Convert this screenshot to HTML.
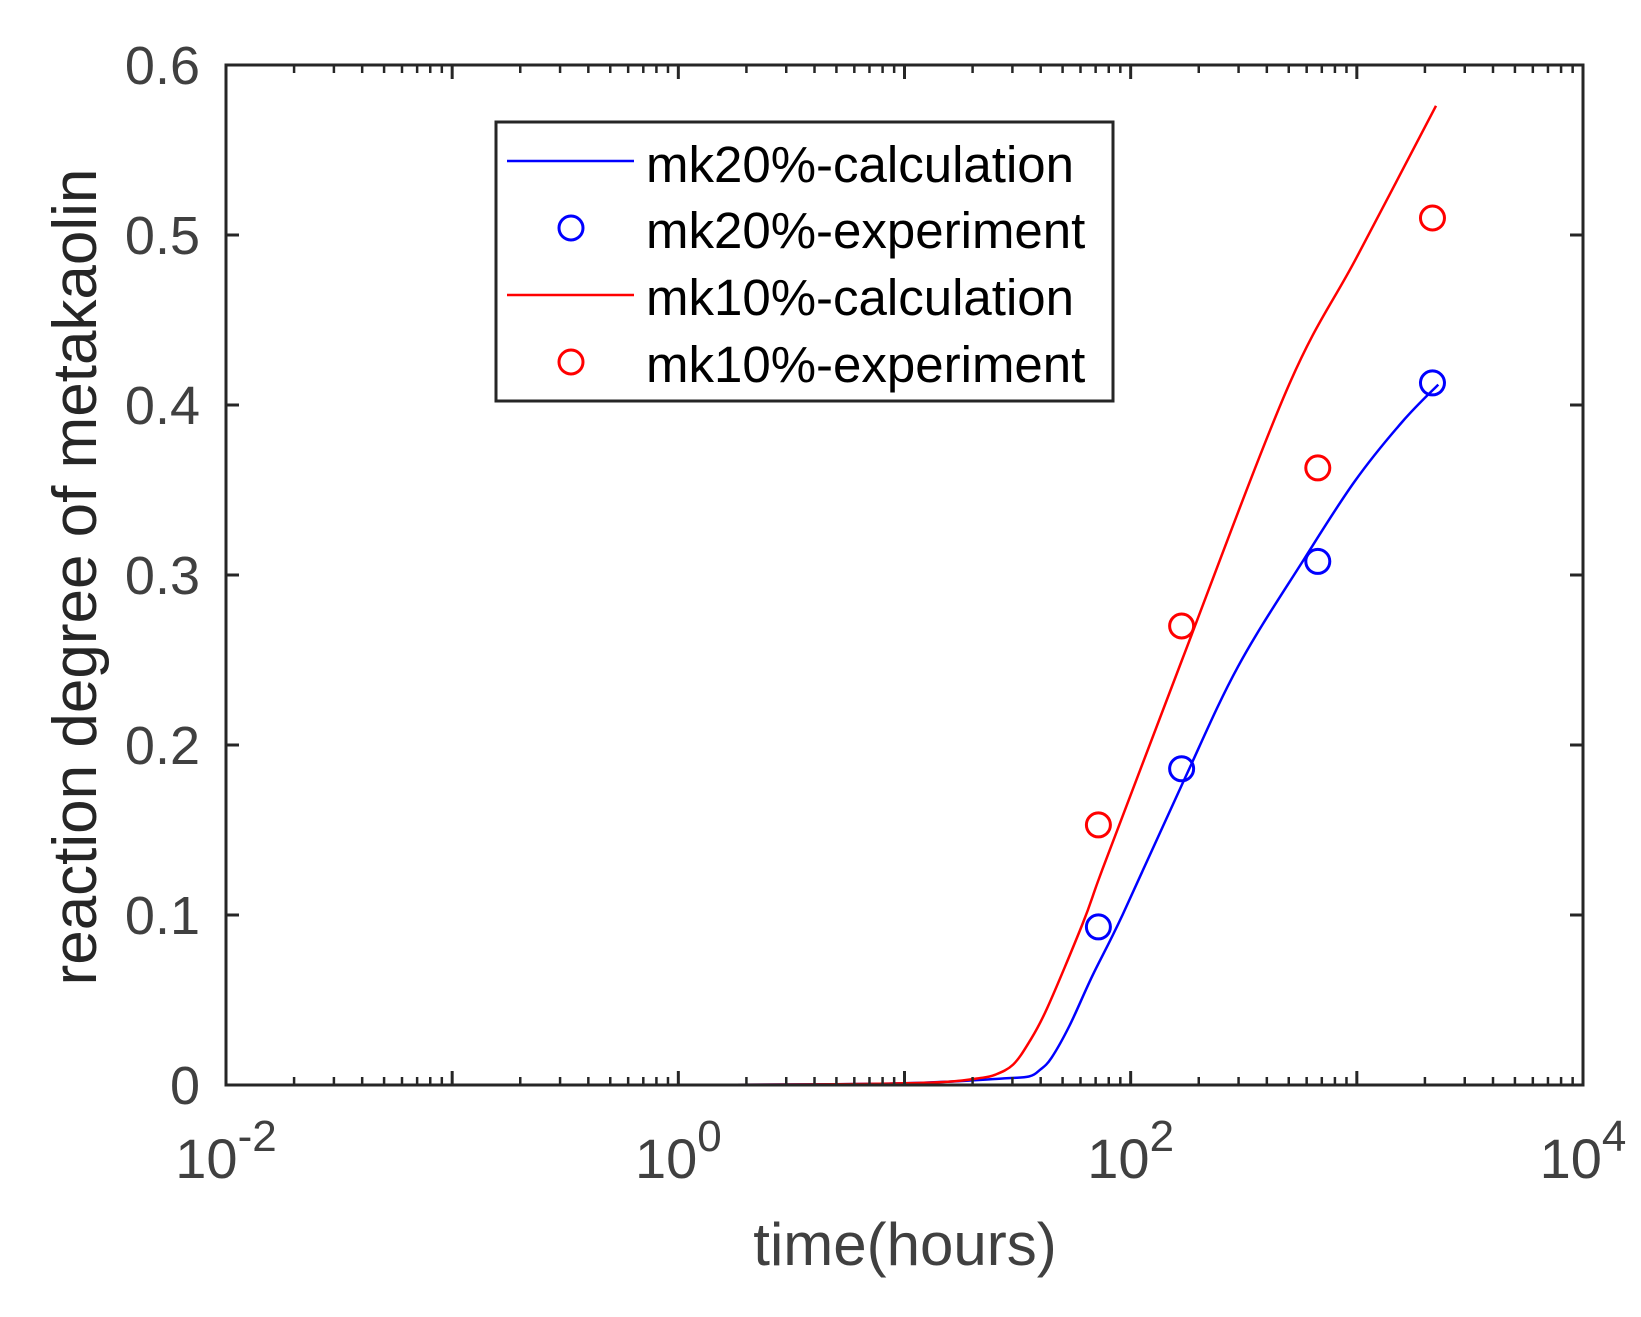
<!DOCTYPE html>
<html><head><meta charset="utf-8"><style>
html,body{margin:0;padding:0;background:#fff;}
svg{display:block;font-family:"Liberation Sans",Arial,sans-serif;}
</style></head><body>
<svg id="chart" width="1641" height="1317" viewBox="0 0 1641 1317" xmlns="http://www.w3.org/2000/svg">
<rect width="1641" height="1317" fill="#fff"/>
<g id="marks"></g>
<g id="axes"></g>
<text x="96" y="577" transform="rotate(-90 96 577)" text-anchor="middle" font-size="62" fill="#262626">reaction degree of metakaolin</text>
<text x="905" y="1265" text-anchor="middle" font-size="60" fill="#404040">time(hours)</text>
<g>
<rect x="496" y="122" width="617" height="279" fill="#fff" stroke="#262626" stroke-width="3"/>
<line x1="507" y1="161" x2="634" y2="161" stroke="#0000ff" stroke-width="2.5"/>
<text x="646" y="182" font-size="51" fill="#000">mk20%-calculation</text>
<circle cx="571" cy="228" r="12" fill="none" stroke="#0000ff" stroke-width="3"/>
<text x="646" y="248" font-size="51" fill="#000">mk20%-experiment</text>
<line x1="507" y1="295" x2="634" y2="295" stroke="#ff0000" stroke-width="2.5"/>
<text x="646" y="315" font-size="51" fill="#000">mk10%-calculation</text>
<circle cx="571" cy="362" r="12" fill="none" stroke="#ff0000" stroke-width="3"/>
<text x="646" y="382" font-size="51" fill="#000">mk10%-experiment</text>
</g>
</svg>
<script>
// data (log10 hours for curves)
const curveLogT20 = [-1, 0, 0.7, 1.0, 1.2, 1.45, 1.55, 1.6, 1.65, 1.73, 1.83, 1.964, 2.228, 2.474, 2.77, 2.99, 3.2, 3.36];
const curveY20    = [0, 0, 0.0005, 0.001, 0.002, 0.004, 0.005, 0.009, 0.016, 0.035, 0.064, 0.1, 0.177, 0.246, 0.31, 0.355, 0.39, 0.412];
const curveLogT10 = [-1, 0, 0.7, 1.0, 1.2, 1.33, 1.4, 1.48, 1.55, 1.63, 1.788, 1.856, 1.964, 2.227, 2.694, 3.0, 3.35];
const curveY10    = [0, 0, 0.0005, 0.001, 0.002, 0.004, 0.006, 0.012, 0.025, 0.045, 0.095, 0.12, 0.158, 0.25, 0.41, 0.487, 0.576];
const expT  = [72, 168, 672, 2160];
const exp20 = [0.093, 0.186, 0.308, 0.413];
const exp10 = [0.153, 0.27, 0.363, 0.51];
const yTicks = [0, 0.1, 0.2, 0.3, 0.4, 0.5, 0.6];
const yTickLabels = ["0", "0.1", "0.2", "0.3", "0.4", "0.5", "0.6"];
const xDecades = [-2, 0, 2, 4];
const xDecadeLabels = ["-2", "0", "2", "4"];

const L = 226, R = 1583, T = 65, B = 1085;
const xMin = -2, xMax = 4, yMin = 0, yMax = 0.6;
const NS = "http://www.w3.org/2000/svg";
function xLog(lg){ return L + (lg - xMin) / (xMax - xMin) * (R - L); }
function xs(t){ return xLog(Math.log10(t)); }
function ys(v){ return B - (v - yMin) / (yMax - yMin) * (B - T); }
function mk(tag, attrs, parent){ const e = document.createElementNS(NS, tag); for (const k in attrs) e.setAttribute(k, attrs[k]); parent.appendChild(e); return e; }

const marks = document.getElementById('marks');
const axes = document.getElementById('axes');

function drawCurve(lt, yv, color, name){
  const P = lt.map((v, i) => [xLog(v), ys(yv[i])]);
  let d = 'M' + P[0][0].toFixed(1) + ' ' + P[0][1].toFixed(1);
  for (let i = 0; i < P.length - 1; i++){
    const p0 = P[Math.max(0, i - 1)], p1 = P[i], p2 = P[i + 1], p3 = P[Math.min(P.length - 1, i + 2)];
    const c1 = [p1[0] + (p2[0] - p0[0]) / 6, p1[1] + (p2[1] - p0[1]) / 6];
    const c2 = [p2[0] - (p3[0] - p1[0]) / 6, p2[1] - (p3[1] - p1[1]) / 6];
    d += ' C' + c1[0].toFixed(1) + ' ' + Math.min(B, c1[1]).toFixed(1) + ' ' + c2[0].toFixed(1) + ' ' + Math.min(B, c2[1]).toFixed(1) + ' ' + p2[0].toFixed(1) + ' ' + p2[1].toFixed(1);
  }
  const p = mk('path', {d: d, fill: 'none', stroke: color, 'stroke-width': 2.5, 'stroke-linejoin': 'round'}, marks);
  
  
}
drawCurve(curveLogT20, curveY20, '#0000ff', 'mk20-calculation-line');
drawCurve(curveLogT10, curveY10, '#ff0000', 'mk10-calculation-line');

function drawPoints(vals, color, name){
  vals.forEach((v, i) => {
    const c = mk('circle', {cx: xs(expT[i]), cy: ys(v), r: 12, fill: 'none', stroke: color, 'stroke-width': 3}, marks);
    
    
  });
}
drawPoints(exp20, '#0000ff', 'mk20-experiment-point');
drawPoints(exp10, '#ff0000', 'mk10-experiment-point');

const box = mk('rect', {x: L, y: T, width: R - L, height: B - T, fill: 'none', stroke: '#262626', 'stroke-width': 3}, axes);



yTicks.forEach((v, i) => {
  const y = ys(v);
  const t1 = mk('line', {x1: L, y1: y, x2: L + 13, y2: y, stroke: '#262626', 'stroke-width': 3}, axes);
  
  
  const t2 = mk('line', {x1: R, y1: y, x2: R - 13, y2: y, stroke: '#262626', 'stroke-width': 3}, axes);
  
  
  const tx = mk('text', {x: 200, y: y + 19, 'text-anchor': 'end', 'font-size': 54, fill: '#404040'}, axes);
  tx.textContent = yTickLabels[i];
  
  
});

for (let d = xMin; d <= xMax; d++){
  const x = xLog(d);
  [[B, -14], [T, 14]].forEach(([y0, len]) => {
    const t = mk('line', {x1: x, y1: y0, x2: x, y2: y0 + len, stroke: '#262626', 'stroke-width': 3}, axes);
    
    
  });
  if (d < xMax){
    for (let m = 2; m <= 9; m++){
      const xm = xLog(d + Math.log10(m));
      [[B, -8], [T, 8]].forEach(([y0, len]) => {
        const t = mk('line', {x1: xm, y1: y0, x2: xm, y2: y0 + len, stroke: '#262626', 'stroke-width': 2.5}, axes);
        
        
      });
    }
  }
}
xDecades.forEach((d, i) => {
  const tx = mk('text', {x: xLog(d), y: 1178, 'text-anchor': 'middle', 'font-size': 56, fill: '#404040'}, axes);
  
  
  const a = mk('tspan', {}, tx); a.textContent = '10';
  const b = mk('tspan', {dy: -27, 'font-size': 44}, tx); b.textContent = xDecadeLabels[i];
});
</script>
</body></html>
